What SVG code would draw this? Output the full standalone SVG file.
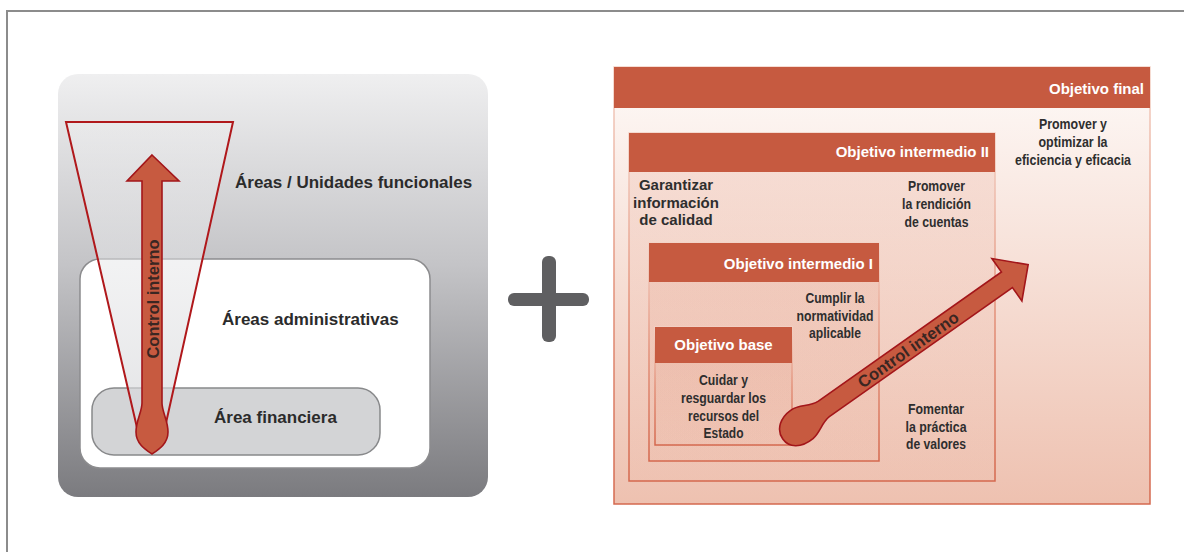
<svg xmlns="http://www.w3.org/2000/svg" width="1184" height="552" viewBox="0 0 1184 552">
  <defs>
    <linearGradient id="gGray" x1="0" y1="0" x2="0" y2="1">
      <stop offset="0" stop-color="#efeff0"/>
      <stop offset="0.45" stop-color="#c4c4c7"/>
      <stop offset="1" stop-color="#7b7b7f"/>
    </linearGradient>
    <linearGradient id="gTri" x1="0" y1="0" x2="0" y2="1">
      <stop offset="0" stop-color="#f2f2f3" stop-opacity="0.35"/>
      <stop offset="1" stop-color="#d6d7da" stop-opacity="0.7"/>
    </linearGradient>
    <linearGradient id="gOuter" x1="0" y1="0" x2="0" y2="1">
      <stop offset="0" stop-color="#fefaf8"/>
      <stop offset="1" stop-color="#eec1b0"/>
    </linearGradient>
    <linearGradient id="gInner" x1="0" y1="0" x2="0" y2="1">
      <stop offset="0" stop-color="#e49a82" stop-opacity="0.22"/>
      <stop offset="1" stop-color="#e49a82" stop-opacity="0.04"/>
    </linearGradient>
    <linearGradient id="gStroke" x1="0" y1="0" x2="0" y2="1">
      <stop offset="0" stop-color="#f3d2c6"/>
      <stop offset="0.5" stop-color="#e3927b"/>
      <stop offset="1" stop-color="#d4684e"/>
    </linearGradient>
  </defs>
  <style>
    .lbl { font-family: "Liberation Sans", Arial, sans-serif; font-weight: bold; font-size: 17px; fill: #2b2b2b; }
    .hdr { fill: #c65a40; }
    .hdrt { font-family: "Liberation Sans", Arial, sans-serif; font-weight: bold; font-size: 15px; fill: #ffffff; }
    .body { font-family: "Liberation Sans", Arial, sans-serif; font-weight: bold; font-size: 15px; fill: #2e2e2e; text-anchor: middle; }
    .bodyw { font-family: "Liberation Sans", Arial, sans-serif; font-weight: bold; font-size: 15px; fill: #2e2e2e; text-anchor: middle; }
    .box { fill: url(#gInner); stroke: url(#gStroke); stroke-width: 1.5; }
    .arrow { fill: #c75a40; stroke: #a3161a; stroke-width: 1.6; stroke-linejoin: miter; }
    .ci { font-family: "Liberation Sans", Arial, sans-serif; font-weight: bold; font-size: 16.5px; fill: #3a2622; text-anchor: middle; }
  </style>

  <rect x="7" y="11" width="1200" height="600" fill="#ffffff" stroke="#8c8c8c" stroke-width="2"/>

  <g id="left-panel">
    <rect id="unidades-funcionales" x="58" y="74" width="430" height="423" rx="20" fill="url(#gGray)"/>
    <text class="lbl" x="235" y="188">Áreas / Unidades funcionales</text>
    <g id="areas-administrativas">
      <rect x="80" y="259" width="350" height="209" rx="20" fill="#ffffff" stroke="#8c8c8e" stroke-width="1.5"/>
      <text class="lbl" x="222" y="325">Áreas administrativas</text>
    </g>
    <g id="area-financiera">
      <rect x="92" y="388" width="288" height="67" rx="22" fill="#d3d4d6" stroke="#88898b" stroke-width="1.5"/>
      <text class="lbl" x="214" y="423">Área financiera</text>
    </g>
    <polygon id="cono" points="66,122 233,122 164,432 138,432" fill="url(#gTri)" stroke="#b0181b" stroke-width="2" stroke-linejoin="miter"/>
  </g>

  <g id="plus">
    <rect x="542" y="256" width="14" height="86" rx="6" fill="#5f5f61"/>
    <rect x="508" y="293" width="81" height="13" rx="6" fill="#5f5f61"/>
  </g>

  <g id="objetivo-final">
    <rect x="614" y="67" width="536" height="437" fill="url(#gOuter)" stroke="url(#gStroke)" stroke-width="1.5"/>
    <rect class="hdr" x="614" y="67" width="536" height="41"/>
    <text class="hdrt" x="1144" y="94" text-anchor="end">Objetivo final</text>
    <text class="body" x="1073" y="129" textLength="68" lengthAdjust="spacingAndGlyphs">Promover y</text>
    <text class="body" x="1073" y="147" textLength="69" lengthAdjust="spacingAndGlyphs">optimizar la</text>
    <text class="body" x="1073" y="165" textLength="116" lengthAdjust="spacingAndGlyphs">eficiencia y eficacia</text>
  </g>

  <g id="objetivo-intermedio-2">
    <rect class="box" x="629" y="133" width="366" height="348"/>
    <rect class="hdr" x="629" y="133" width="366" height="39"/>
    <text class="hdrt" x="989" y="157" text-anchor="end">Objetivo intermedio II</text>
    <text class="bodyw" x="676" y="190">Garantizar</text>
    <text class="bodyw" x="676" y="208">información</text>
    <text class="bodyw" x="676" y="225">de calidad</text>
    <text class="body" x="936.5" y="191" textLength="57" lengthAdjust="spacingAndGlyphs">Promover</text>
    <text class="body" x="936.5" y="209" textLength="69" lengthAdjust="spacingAndGlyphs">la rendición</text>
    <text class="body" x="936.5" y="227" textLength="64" lengthAdjust="spacingAndGlyphs">de cuentas</text>
    <text class="body" x="936" y="414" textLength="56" lengthAdjust="spacingAndGlyphs">Fomentar</text>
    <text class="body" x="936" y="432" textLength="61" lengthAdjust="spacingAndGlyphs">la práctica</text>
    <text class="body" x="936" y="449" textLength="60" lengthAdjust="spacingAndGlyphs">de valores</text>
  </g>

  <g id="objetivo-intermedio-1">
    <rect class="box" x="649" y="243" width="230" height="218"/>
    <rect class="hdr" x="649" y="243" width="230" height="39"/>
    <text class="hdrt" x="873" y="269" text-anchor="end">Objetivo intermedio I</text>
    <text class="body" x="835" y="303" textLength="59" lengthAdjust="spacingAndGlyphs">Cumplir la</text>
    <text class="body" x="835" y="321" textLength="77" lengthAdjust="spacingAndGlyphs">normatividad</text>
    <text class="body" x="835" y="338" textLength="52" lengthAdjust="spacingAndGlyphs">aplicable</text>
  </g>

  <g id="objetivo-base">
    <rect class="box" x="655" y="327" width="137" height="118"/>
    <rect class="hdr" x="655" y="327" width="137" height="36"/>
    <text class="hdrt" x="723.5" y="350" text-anchor="middle">Objetivo base</text>
    <text class="body" x="723.5" y="385" textLength="49" lengthAdjust="spacingAndGlyphs">Cuidar y</text>
    <text class="body" x="723.5" y="403" textLength="85" lengthAdjust="spacingAndGlyphs">resguardar los</text>
    <text class="body" x="723.5" y="421" textLength="71" lengthAdjust="spacingAndGlyphs">recursos del</text>
    <text class="body" x="723.5" y="438" textLength="40" lengthAdjust="spacingAndGlyphs">Estado</text>
  </g>

  <g id="connectors">
    <g id="control-interno-vertical">
      <path class="arrow" d="M152,155 L179,181 L162,181 L162,403 C162,412 168,420 168,432 C168,444 158,450 152,454 C146,450 136,444 136,432 C136,420 142,412 142,403 L142,181 L127,181 Z"/>
      <text class="ci" transform="translate(158.5,299) rotate(-90)" x="0" y="0">Control interno</text>
    </g>
    <g id="control-interno-diagonal" transform="translate(801,425) rotate(-35.2)">
      <path class="arrow" d="M28,-9.5 L252,-9.5 L252,-26 L278,0 L252,26 L252,9.5 L28,9.5 C18,10 12,17 2,18 C-13,19 -23,12 -23,1 C-23,-11 -12,-18 0,-18 C12,-18 16,-10 28,-9.5 Z"/>
      <text class="ci" x="131" y="6">Control interno</text>
    </g>
  </g>
</svg>
